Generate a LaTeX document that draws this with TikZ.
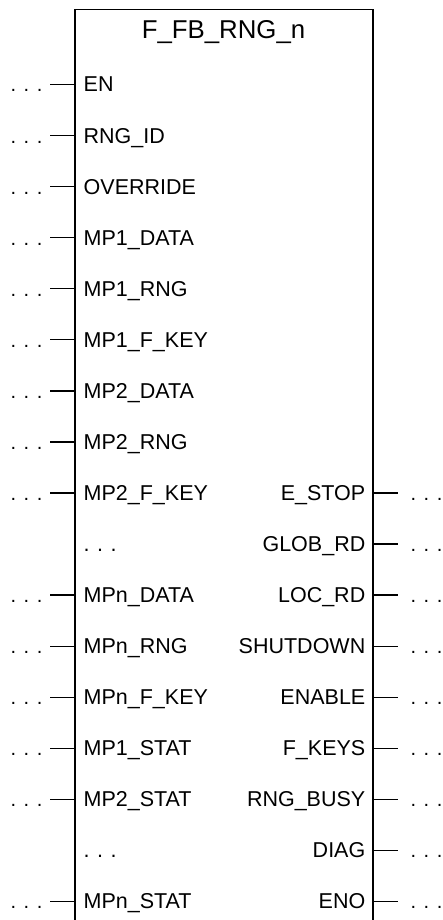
\documentclass[tikz,border=0pt]{standalone}
\usepackage{fontspec}
\setmainfont{Liberation Sans}
\begin{document}
\begin{tikzpicture}[x=1pt,y=-1pt,
  lbl/.style={font=\fontsize{21.5}{21.5}\selectfont, inner sep=0pt},
  lin/.style={anchor=base west, lbl},
  rin/.style={anchor=base east, lbl},
  dotsl/.style={font=\fontsize{20}{20}\selectfont, inner sep=0pt, anchor=base},
  stub/.style={line width=1.3pt},
  boxline/.style={line width=1.3pt}]
\useasboundingbox (0,0) rectangle (443,920);
% box
\coordinate (bl) at (75,921);
\coordinate (tl) at (75,9.5);
\coordinate (tr) at (373,9.5);
\coordinate (br) at (373,921);
\draw[boxline] (bl) -- (tl) -- (tr) -- (br);
\node[anchor=base, font=\fontsize{25.8}{25.8}\selectfont, inner sep=0pt] (title) at (223.5,38.5) {F\_FB\_RNG\_n};
\def\dts{.\hspace{7.5pt}.\hspace{7.5pt}.}
% left inputs
\foreach \i/\t/\s in {0/EN/1,1/RNG\_ID/1,2/OVERRIDE/1,3/MP1\_DATA/1,4/MP1\_RNG/1,5/MP1\_F\_KEY/1,6/MP2\_DATA/1,7/MP2\_RNG/1,8/MP2\_F\_KEY/1,9/\dts/0,10/MPn\_DATA/1,11/MPn\_RNG/1,12/MPn\_F\_KEY/1,13/MP1\_STAT/1,14/MP2\_STAT/1,15/\dts/0,16/MPn\_STAT/1}{
  \pgfmathsetmacro{\yy}{84.5+51.06*\i}
  \coordinate (li\i) at (75,\yy);
  \node[lin] (lt\i) at (83.5,\yy+7.5) {\t};
  \ifnum\s=1
    \coordinate (ls\i) at (50,\yy);
    \draw[stub] (li\i) -- (ls\i);
    \node[dotsl] (ld\i) at (26.5,\yy+7.5) {\dts};
  \fi
}
% right outputs
\foreach \i/\t in {8/E\_STOP,9/GLOB\_RD,10/LOC\_RD,11/SHUTDOWN,12/ENABLE,13/F\_KEYS,14/RNG\_BUSY,15/DIAG,16/ENO}{
  \pgfmathsetmacro{\yy}{84.5+51.06*\i}
  \coordinate (ro\i) at (373,\yy);
  \coordinate (rs\i) at (398,\yy);
  \node[rin] (rt\i) at (365.5,\yy+7.5) {\t};
  \draw[stub] (ro\i) -- (rs\i);
  \node[dotsl] (rd\i) at (426.5,\yy+7.5) {\dts};
}
\end{tikzpicture}
\end{document}
